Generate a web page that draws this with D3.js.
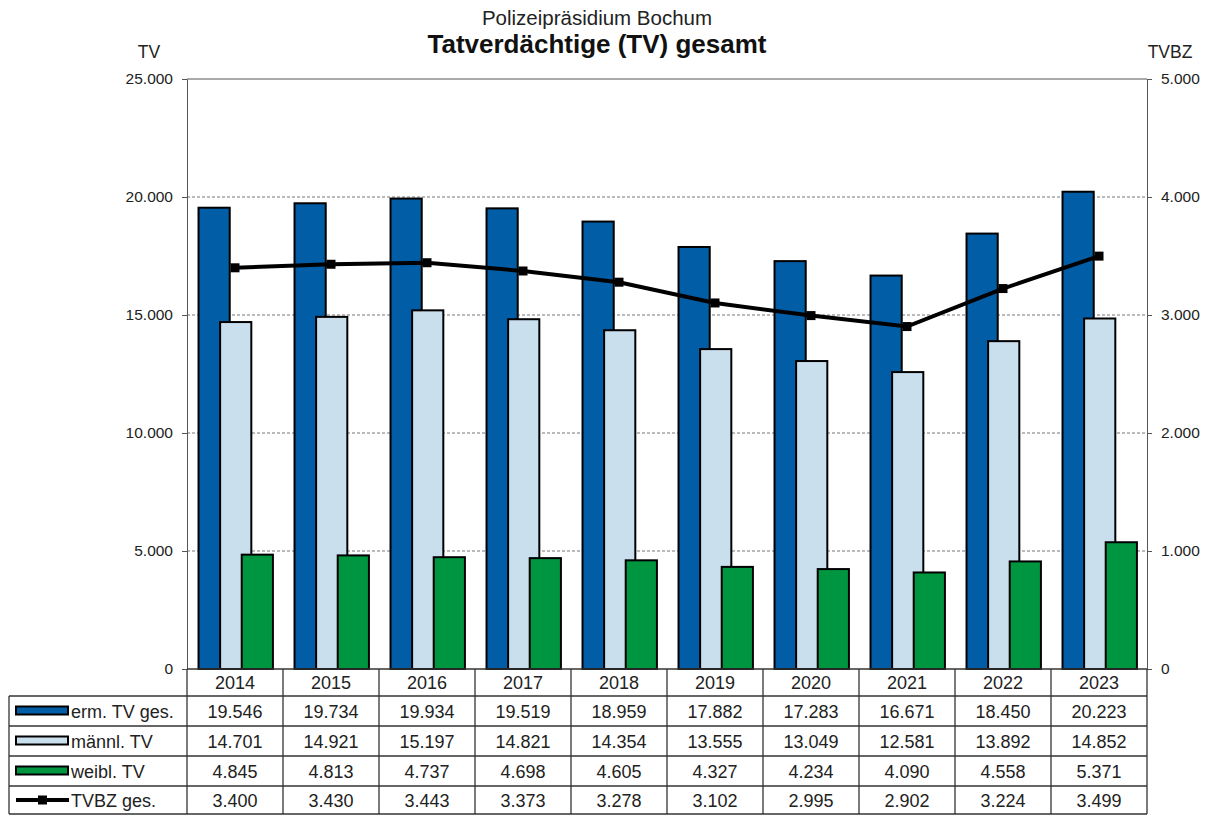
<!DOCTYPE html>
<html>
<head>
<meta charset="utf-8">
<script src="https://cdn.jsdelivr.net/npm/d3@7"></script>
<style>
  body { margin: 0; background: #fff; }
  svg { font-family: "Liberation Sans", Arial, sans-serif; }
</style>
</head>
<body>
<div id="chart"></div>
<script>
// data
const years = ["2014", "2015", "2016", "2017", "2018", "2019", "2020", "2021", "2022", "2023"];
const ermTV = [19546, 19734, 19934, 19519, 18959, 17882, 17283, 16671, 18450, 20223];
const maennlTV = [14701, 14921, 15197, 14821, 14354, 13555, 13049, 12581, 13892, 14852];
const weiblTV = [4845, 4813, 4737, 4698, 4605, 4327, 4234, 4090, 4558, 5371];
const tvbz = [3400, 3430, 3443, 3373, 3278, 3102, 2995, 2902, 3224, 3499];
const leftTicks = [0, 5000, 10000, 15000, 20000, 25000];
const rightTicks = [0, 1000, 2000, 3000, 4000, 5000];

const barSeries = [
    { name: "erm. TV ges.", values: ermTV, color: "#005da6" },
    { name: "männl. TV", values: maennlTV, color: "#c9dfee" },
    { name: "weibl. TV", values: weiblTV, color: "#00963f" }
];

const W = 1210, H = 815;
const plot = { left: 187, right: 1147, top: 79, bottom: 669 };
const tableLeft = 9;
const rowEdges = [669, 696, 726, 756, 786, 814];
const tableFont = "18px";

const fmt = d3.formatLocale({ decimal: ",", thousands: ".", grouping: [3], currency: ["", "€"] }).format(",d");

const svg = d3.select("#chart").append("svg")
    .attr("width", W)
    .attr("height", H);

// scales
const x = d3.scaleBand().domain(years).range([plot.left, plot.right]);
const y = d3.scaleLinear().domain([0, 25000]).range([plot.bottom, plot.top]);
const y2 = d3.scaleLinear().domain([0, 5000]).range([plot.bottom, plot.top]);

// titles
svg.append("text")
    .attr("x", 597).attr("y", 25)
    .attr("text-anchor", "middle")
    .style("font-size", "20.5px")
    .attr("fill", "#222")
    .text("Polizeipräsidium Bochum");
svg.append("text")
    .attr("x", 597).attr("y", 53)
    .attr("text-anchor", "middle")
    .style("font-size", "26px")
    .style("font-weight", "bold")
    .attr("fill", "#111")
    .text("Tatverdächtige (TV) gesamt");
svg.append("text")
    .attr("x", 149).attr("y", 58)
    .attr("text-anchor", "middle")
    .style("font-size", "17.5px")
    .attr("fill", "#222")
    .text("TV");
svg.append("text")
    .attr("x", 1170).attr("y", 58)
    .attr("text-anchor", "middle")
    .style("font-size", "17.5px")
    .attr("fill", "#222")
    .text("TVBZ");

// grid lines
svg.append("g")
    .selectAll("line")
    .data(leftTicks.filter(d => d > 0 && d < 25000))
    .join("line")
    .attr("x1", plot.left).attr("x2", plot.right)
    .attr("y1", d => y(d)).attr("y2", d => y(d))
    .attr("stroke", "#777")
    .attr("stroke-dasharray", "3,2")
    .attr("stroke-width", 1);

// axes
const leftAxis = svg.append("g")
    .attr("transform", `translate(${plot.left},0)`)
    .call(d3.axisLeft(y).tickValues(leftTicks).tickFormat(fmt).tickSize(5).tickSizeOuter(0));
const rightAxis = svg.append("g")
    .attr("transform", `translate(${plot.right},0)`)
    .call(d3.axisRight(y2).tickValues(rightTicks).tickFormat(fmt).tickSize(5).tickSizeOuter(0));
[leftAxis, rightAxis].forEach(g => {
    g.select(".domain").attr("stroke", "#555");
    g.selectAll(".tick line").attr("stroke", "#555");
    g.selectAll(".tick text")
        .style("font-size", "15.5px")
        .attr("fill", "#222")
        .attr("font-family", "Liberation Sans, Arial, sans-serif");
});
leftAxis.selectAll(".tick text").attr("x", -14);
rightAxis.selectAll(".tick text").attr("x", 14);

// top border
svg.append("line")
    .attr("x1", plot.left).attr("x2", plot.right)
    .attr("y1", plot.top).attr("y2", plot.top)
    .attr("stroke", "#555");

// bars
const bw = x.bandwidth();
const barWidth = bw * 0.325;
const barStep = bw * 0.225;
const barStart = bw * 0.12;

barSeries.forEach((s, i) => {
    svg.append("g")
        .selectAll("rect")
        .data(years.map((yr, j) => [yr, s.values[j]]))
        .join("rect")
        .attr("x", ([yr]) => x(yr) + barStart + i * barStep)
        .attr("width", barWidth)
        .attr("y", ([, v]) => y(v))
        .attr("height", ([, v]) => plot.bottom - y(v))
        .attr("fill", s.color)
        .attr("stroke", "#000")
        .attr("stroke-width", 2);
});

// line series
const line = d3.line()
    .x((d, i) => x(years[i]) + bw / 2)
    .y(d => y2(d));
svg.append("path")
    .datum(tvbz)
    .attr("d", line)
    .attr("fill", "none")
    .attr("stroke", "#000")
    .attr("stroke-width", 4);
svg.append("g")
    .selectAll("rect")
    .data(tvbz)
    .join("rect")
    .attr("x", (d, i) => x(years[i]) + bw / 2 - 4.5)
    .attr("y", d => y2(d) - 4.5)
    .attr("width", 9)
    .attr("height", 9)
    .attr("fill", "#000");

// table
const table = svg.append("g");
const lineColor = "#333";

// horizontal lines
rowEdges.forEach((ry, i) => {
    table.append("line")
        .attr("x1", i === 0 ? plot.left : tableLeft)
        .attr("x2", plot.right)
        .attr("y1", ry).attr("y2", ry)
        .attr("stroke", lineColor)
        .attr("stroke-width", 1.3);
});
// vertical lines at band edges
const edges = years.map(yr => x(yr)).concat([plot.right]);
table.selectAll(".vline")
    .data(edges)
    .join("line")
    .attr("class", "vline")
    .attr("x1", d => d).attr("x2", d => d)
    .attr("y1", rowEdges[0]).attr("y2", rowEdges[rowEdges.length - 1])
    .attr("stroke", lineColor)
    .attr("stroke-width", 1.3);
table.append("line")
    .attr("x1", tableLeft).attr("x2", tableLeft)
    .attr("y1", rowEdges[1]).attr("y2", rowEdges[rowEdges.length - 1])
    .attr("stroke", lineColor)
    .attr("stroke-width", 1.3);

// year labels
table.selectAll(".yr")
    .data(years)
    .join("text")
    .attr("class", "yr")
    .attr("x", d => x(d) + bw / 2)
    .attr("y", (rowEdges[0] + rowEdges[1]) / 2 + 6.5)
    .attr("text-anchor", "middle")
    .style("font-size", tableFont)
    .attr("fill", "#222")
    .text(d => d);

// value rows
const rows = barSeries.map(s => ({ name: s.name, values: s.values, color: s.color, type: "bar" }))
    .concat([{ name: "TVBZ ges.", values: tvbz, type: "line" }]);

rows.forEach((r, i) => {
    const cy = (rowEdges[i + 1] + rowEdges[i + 2]) / 2;
    if (r.type === "bar") {
        table.append("rect")
            .attr("x", 16).attr("y", cy - 4.5)
            .attr("width", 52).attr("height", 8)
            .attr("fill", r.color)
            .attr("stroke", "#000")
            .attr("stroke-width", 2);
    } else {
        table.append("line")
            .attr("x1", 16).attr("x2", 69)
            .attr("y1", cy).attr("y2", cy)
            .attr("stroke", "#000")
            .attr("stroke-width", 4);
        table.append("rect")
            .attr("x", 38).attr("y", cy - 4.5)
            .attr("width", 9).attr("height", 9)
            .attr("fill", "#000");
    }
    table.append("text")
        .attr("x", 71).attr("y", cy + 6.5)
        .style("font-size", tableFont)
        .attr("fill", "#222")
        .text(r.name);
    table.selectAll(".v" + i)
        .data(r.values)
        .join("text")
        .attr("x", (d, j) => x(years[j]) + bw / 2)
        .attr("y", cy + 6.5)
        .attr("text-anchor", "middle")
        .style("font-size", tableFont)
        .attr("fill", "#222")
        .text(d => fmt(d));
});
</script>
</body>
</html>
